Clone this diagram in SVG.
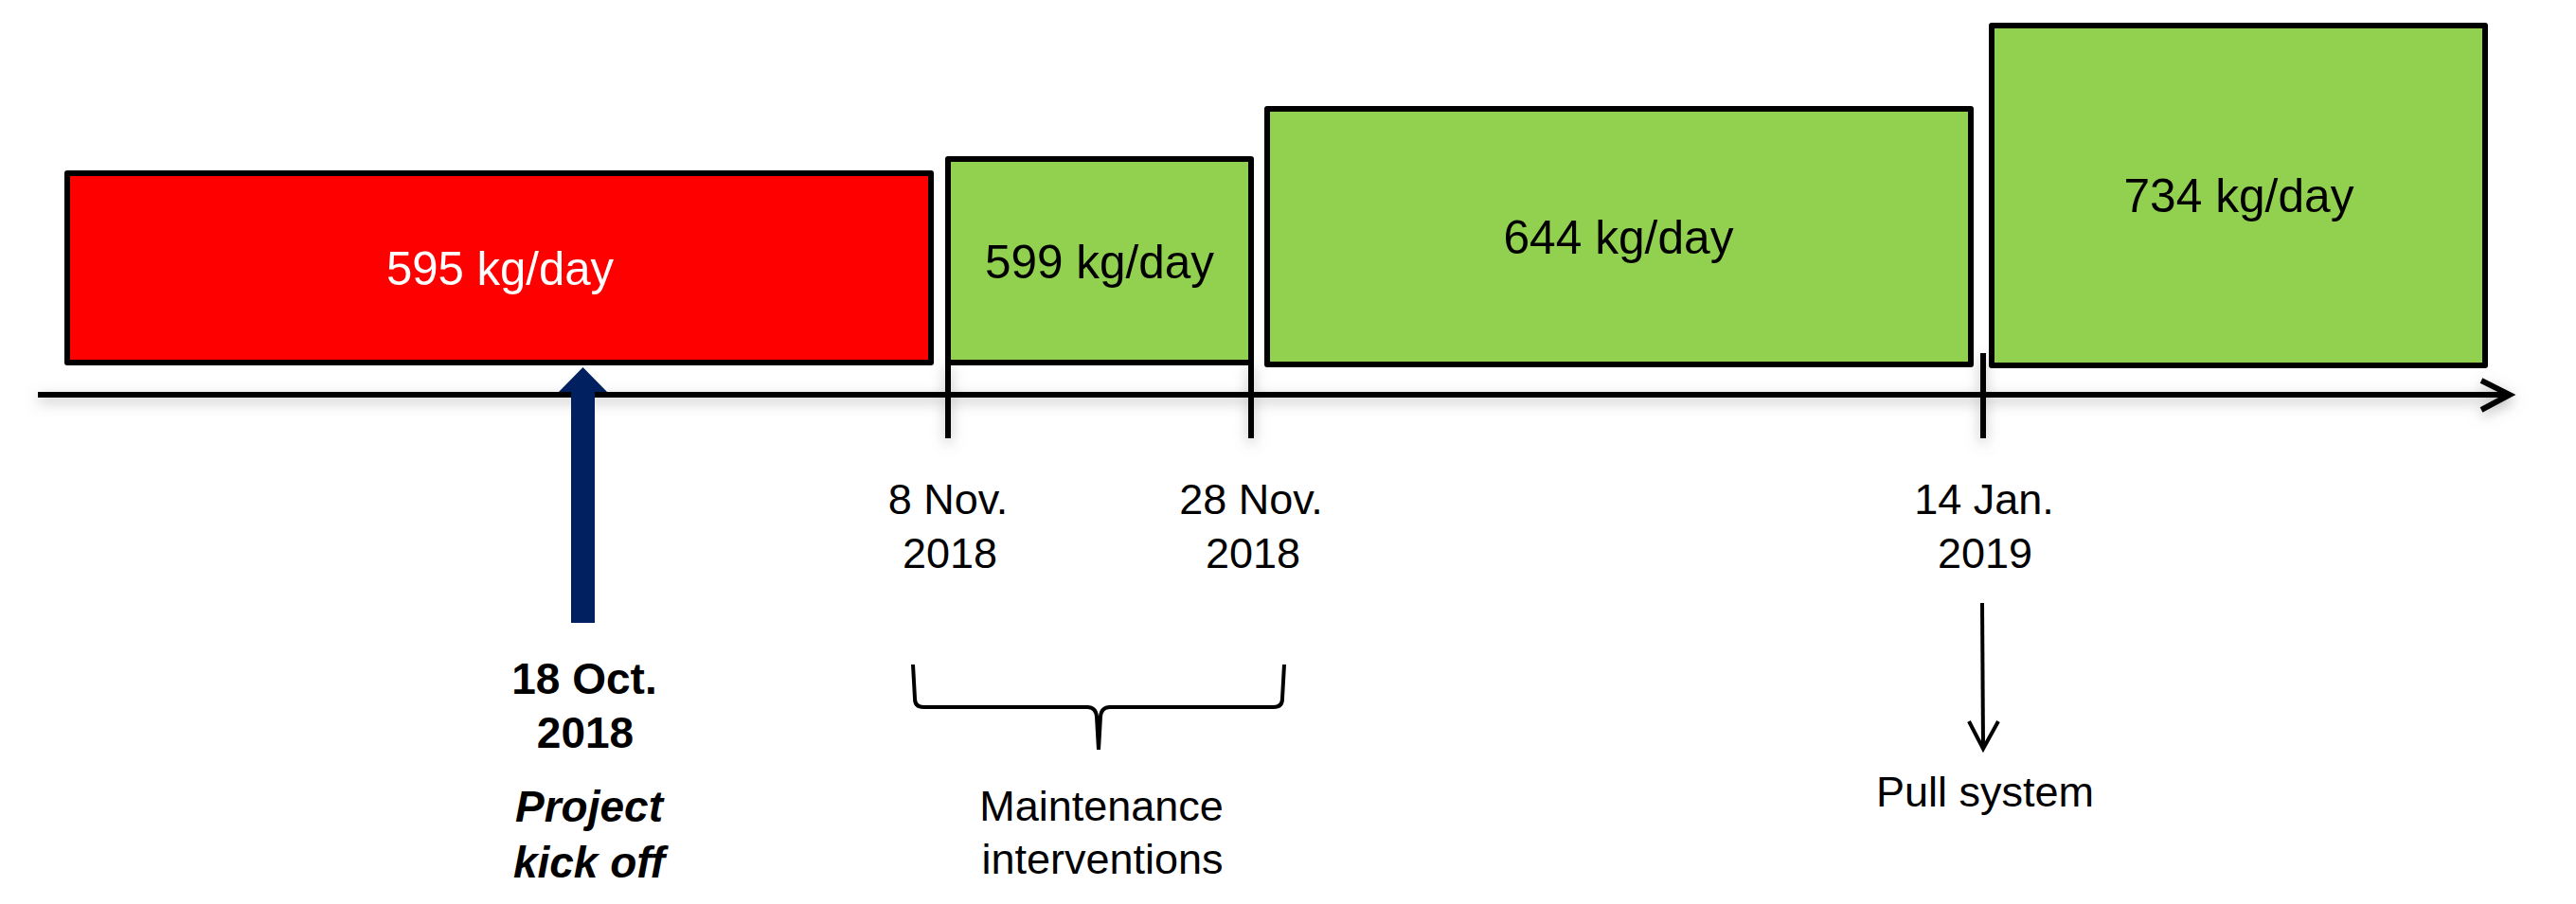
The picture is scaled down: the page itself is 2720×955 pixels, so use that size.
<svg xmlns="http://www.w3.org/2000/svg" width="2720" height="955" viewBox="0 0 2720 955">
<style>
.box{stroke:#000;stroke-width:6;stroke-linejoin:round}
.red{fill:#FF0000}
.green{fill:#92D050}
.lbl{font-family:"Liberation Sans",Arial,sans-serif;font-size:50px;text-anchor:middle}
.txt{font-family:"Liberation Sans",Arial,sans-serif;font-size:45px;text-anchor:middle;fill:#000}
.bold{font-weight:bold;font-size:46px}
.it{font-style:italic}
.ln{stroke:#000;fill:none}
</style>
<defs>
<filter id="sh" x="-5%" y="-50%" width="110%" height="200%">
<feDropShadow dx="0" dy="5" stdDeviation="7" flood-color="#808080" flood-opacity="0.55"/>
</filter>
</defs>
<rect width="2720" height="955" fill="#fff"/>
<g id="connectors">
<g id="axis" filter="url(#sh)">
<line class="ln" x1="40" y1="417" x2="2646" y2="417" stroke-width="6"/>
<polyline class="ln" points="2620,402 2650,417 2620,433" stroke-width="6" stroke-linejoin="miter"/>
<line class="ln" x1="1001" y1="383" x2="1001" y2="463" stroke-width="6"/>
<line class="ln" x1="1321" y1="383" x2="1321" y2="463" stroke-width="6"/>
<line class="ln" x1="2094" y1="373" x2="2094" y2="463" stroke-width="6"/>
</g>
<path id="brace" class="ln" stroke-width="4" d="M964,702 L966,738 Q966,747 975,747 L1148,747 Q1157,747 1158,757 L1160,792 L1162,757 Q1163,747 1172,747 L1345,747 Q1354,747 1354,738 L1356,702"/>
<g id="pull-arrow">
<line class="ln" x1="2093" y1="637" x2="2094" y2="789" stroke-width="4"/>
<polyline class="ln" points="2079,762 2094,791 2110,762" stroke-width="4"/>
</g>
</g>
<g id="box-595">
<rect class="box red" x="71" y="183" width="912" height="200"/>
<text class="lbl" x="528" y="301" fill="#fff" textLength="240" lengthAdjust="spacingAndGlyphs">595 kg/day</text>
</g>
<g id="box-599">
<rect class="box green" x="1001" y="168" width="320" height="215"/>
<text class="lbl" x="1161" y="294" fill="#000" textLength="242" lengthAdjust="spacingAndGlyphs">599 kg/day</text>
</g>
<g id="box-644">
<rect class="box green" x="1338" y="115" width="743" height="270"/>
<text class="lbl" x="1709" y="268" fill="#000" textLength="243" lengthAdjust="spacingAndGlyphs">644 kg/day</text>
</g>
<g id="box-734">
<rect class="box green" x="2103" y="27" width="521" height="359"/>
<text class="lbl" x="2364" y="224" fill="#000" textLength="243" lengthAdjust="spacingAndGlyphs">734 kg/day</text>
</g>
<g id="kickoff">
<polygon fill="#002060" points="603,658 603,414 590,414 615.5,388 641,414 628,414 628,658"/>
<text class="txt bold" x="617" y="733">18 Oct.</text>
<text class="txt bold" x="618" y="790">2018</text>
<text class="txt bold it" x="622" y="868">Project</text>
<text class="txt bold it" x="622" y="927">kick off</text>
</g>
<g id="date-8nov">
<text class="txt" x="1001" y="543">8 Nov.</text>
<text class="txt" x="1003" y="600">2018</text>
</g>
<g id="date-28nov">
<text class="txt" x="1321" y="543">28 Nov.</text>
<text class="txt" x="1323" y="600">2018</text>
</g>
<g id="maintenance">
<text class="txt" x="1163" y="867">Maintenance</text>
<text class="txt" x="1164" y="923">interventions</text>
</g>
<g id="date-14jan">
<text class="txt" x="2095" y="543">14 Jan.</text>
<text class="txt" x="2096" y="600">2019</text>
</g>
<g id="pull">
<text class="txt" x="2096" y="852">Pull system</text>
</g>
</svg>
